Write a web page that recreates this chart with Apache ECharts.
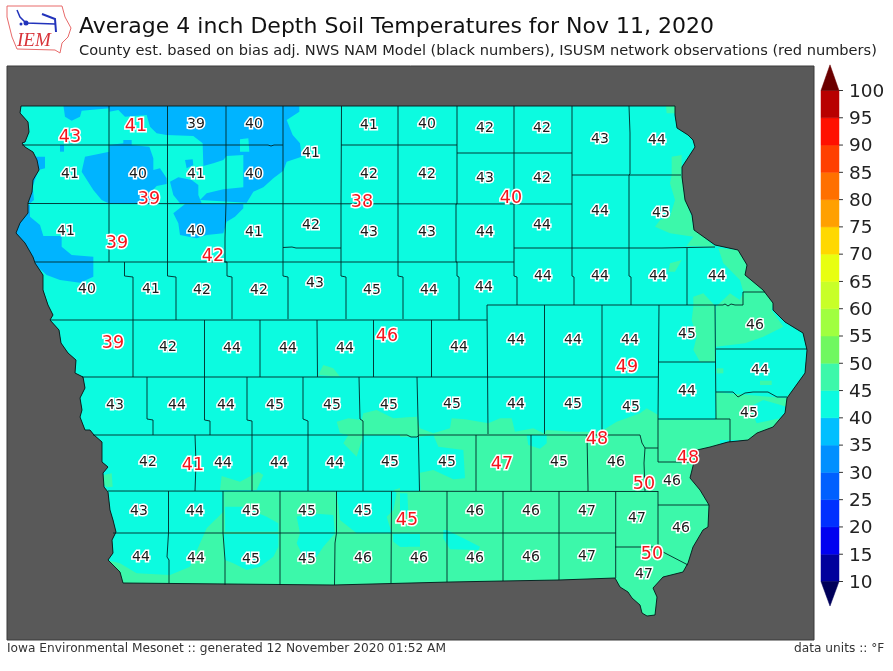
<!DOCTYPE html>
<html><head><meta charset="utf-8">
<style>html,body{margin:0;padding:0;background:#fff}#c{width:893px;height:671px}</style>
<script src="https://cdn.jsdelivr.net/npm/echarts@6/dist/echarts.min.js"></script>
</head><body><div id="c"></div>
<script>
const titleText='Average 4 inch Depth Soil Temperatures for Nov 11, 2020';
const subtitleText='County est. based on bias adj. NWS NAM Model (black numbers), ISUSM network observations (red numbers)';
const footerLeft='Iowa Environmental Mesonet :: generated 12 November 2020 01:52 AM';
const footerRight='data units :: \u00B0F';

// model estimates (black numbers)
const modelValues=[39,40,41,40,42,42,43,44, 41,40,41,40,41,42,42,43,42,44,45, 41,40,41,42,43,43,44,44, 40,41,42,42,43,45,44,44,44,44,44,44,46, 42,44,44,44,44,44,44,44,45, 44,44, 43,44,44,45,45,45,45,44,45,45,45, 42,44,44,44,45,45,45,46,46, 43,44,45,45,45,46,46,47,47,46, 44,44,45,45,46,46,46,46,47,47];
const modelX=[196,254,369,427,485,542,600,657, 70,138,196,254,311,369,427,485,542,600,661, 66,196,254,311,369,427,485,542, 87,151,202,259,315,372,429,484,543,600,658,717,755, 168,232,288,345,459,516,573,630,687, 760,687, 115,177,226,275,332,389,452,516,573,631,749, 148,223,279,335,390,447,559,616,672, 139,195,251,307,363,475,531,587,637,681, 141,196,251,307,363,419,475,531,587,644];
const modelY=[124,124,125,124,128,128,139,140, 174,174,174,174,153,174,174,178,178,211,213, 231,231,232,225,232,232,232,225, 289,289,290,290,283,290,290,287,276,276,276,276,325, 347,348,348,348,347,340,340,340,334, 370,391, 405,405,405,405,405,405,404,404,404,407,413, 462,463,463,463,462,462,462,462,481, 511,511,511,511,511,511,511,511,518,528, 557,558,559,559,558,558,558,557,556,574];
// station observations (red numbers)
const obsValues=[43,41,39,39,42,38,40,39,46,49,48,48,41,47,50,45,50];
const obsX=[70,136,149,117,213,362,511,113,387,627,597,688,193,502,644,407,652];
const obsY=[137,126,199,243,256,202,198,343,336,367,439,458,465,464,484,520,554];

// colour bar
const barEdges=[10,15,20,25,30,35,40,45,50,55,60,65,70,75,80,85,90,95];
const barColors=['#00009c','#0000f0','#0030ff','#0060ff','#0090ff','#00bfff','#0cfbe0','#3cf8aa','#70f860','#a0ff40','#c8ff28','#e8ff10','#ffd800','#ffa000','#ff7000','#ff4000','#ff1000','#b80000'];
const barLow='#00005a', barHigh='#6b0000';
const barTicks=[10,15,20,25,30,35,40,45,50,55,60,65,70,75,80,85,90,95,100];

const C_BLUE='#00b4ff', C_BASE='#0cfbe0', C_GREEN='#3cf8aa';

const stateOutline=[[21,106],[20,113],[28,122],[29,132],[25,142],[22,143],[25,147],[33,152],[37,160],[39,170],[33,180],[32,192],[28,203],[28,213],[20,223],[16,233],[25,243],[33,257],[35,263],[43,275],[43,290],[48,305],[53,315],[50,320],[59,330],[61,343],[68,353],[76,360],[75,373],[83,377],[85,388],[80,398],[82,410],[80,417],[85,430],[90,430],[94,435],[102,442],[102,462],[108,467],[103,473],[104,487],[108,492],[110,510],[113,520],[116,532],[112,540],[113,553],[108,560],[120,572],[123,583],[333,585],[450,582],[503,581],[559,580],[615,578],[620,587],[628,592],[632,598],[640,605],[642,613],[647,616],[655,615],[657,597],[653,588],[663,577],[683,572],[688,563],[693,547],[703,530],[708,527],[709,505],[700,490],[690,478],[697,450],[710,447],[728,442],[748,440],[757,433],[773,427],[785,413],[787,398],[805,373],[807,350],[803,333],[785,322],[773,310],[773,303],[763,290],[745,275],[747,265],[738,250],[715,245],[694,230],[692,215],[685,200],[682,177],[682,167],[695,147],[693,140],[688,135],[677,128],[675,115],[675,106]];

const countyLines=[
[[109,106],[109,262]],
[[124.5,262],[124.5,276],[133,277],[133,377]],
[[167.5,106],[167.5,276],[176,277],[176,320]],
[[226,106],[226,203],[225,238],[225,262],[227,262],[227,276],[232,277],[232,319]],
[[283,106],[283,276],[288,277],[288,319]],
[[341.5,106],[341,204],[341,276],[346,277],[346,319]],
[[398,106],[398,276],[403,277],[403,319]],
[[457,106],[457,204],[456,204],[456,262],[457,262],[457,276],[459,277],[459,320]],
[[514,106],[514,276],[517,277],[517,305]],
[[572,106],[572,276],[574,277],[574,305]],
[[629,106],[630,133],[630,174],[629,175],[629,276],[631,277],[631,305]],
[[687,248],[687,305]],
[[22,145],[268,145],[271,146],[274,145],[283,145]],
[[341,145],[457,145]],
[[457,153],[572,153]],
[[572,175],[681,175]],
[[28,203.5],[572,204]],
[[283,247.5],[292,247],[296,248],[341,248]],
[[514,248],[662,248],[715,247]],
[[35,262],[514,262]],
[[50,320],[487,320]],
[[487,305],[715,305],[723,305],[725,304],[728,306],[731,304],[735,305],[743,305],[743,292],[765,292]],
[[487,305],[488,434]],
[[82,377],[658,377]],
[[658,362],[716,362]],
[[659,305],[658,419]],
[[715,305],[716,419]],
[[716,349],[807,349]],
[[716,392],[733,392],[738,397],[745,393],[753,392],[768,392],[777,397],[787,397]],
[[658,419],[730,419],[730,442]],
[[658,419],[658,462],[697,462]],
[[645,448],[658,448]],
[[640,435],[642,443],[645,448],[644,463],[645,491]],
[[93,435],[407,435],[411,437],[417,437],[419,435],[640,435]],
[[204.5,320],[204.5,377]],
[[260,320],[260,377]],
[[317,320],[317.5,377]],
[[373.5,320],[373.5,377]],
[[431.5,320],[431.5,377]],
[[544.5,305],[544.5,434]],
[[602,305],[602,434]],
[[147,377],[147,419],[153,420],[153,435]],
[[204.5,377],[204.5,420],[210,421],[210,435]],
[[247,377],[247,420],[252,421],[252,491]],
[[303,377],[303,419],[308,421],[308,491]],
[[359,377],[360,419],[363,421],[363,491]],
[[417,377],[418,419],[419.5,491]],
[[195,435],[196,463],[195,491]],
[[476,435],[476,491]],
[[531,435],[531,491]],
[[587,435],[588,487],[588,491]],
[[108,491],[658,491.5]],
[[658,491],[658,547],[663,552],[688,565]],
[[658,505],[709,505]],
[[615,547],[658,547]],
[[615.7,491.5],[615.7,578]],
[[113,533],[615.7,533]],
[[168.5,491],[168.5,533],[167,557],[169,560],[169,583]],
[[223,491],[223,533],[225,560],[225,585]],
[[280,491],[280,585]],
[[336.5,491],[336.5,533],[335,543],[334.5,585]],
[[391.5,491],[391,583]],
[[447,491],[447,582]],
[[503,491],[503,581]],
[[559,491],[559,580]]
];

const blueZones=[
[10,100,[[160,15],[868,15],[868,35],[830,60],[848,105],[870,130],[875,170],[830,185],[820,212],[790,235],[760,262],[730,275],[710,308],[570,300],[590,280],[640,268],[700,262],[700,215],[700,165],[650,168],[640,180],[610,190],[580,198],[578,130],[550,108],[470,105],[440,100],[420,80],[410,45],[345,50],[325,30],[298,35],[298,25],[215,32],[210,50],[185,62],[165,50]]],
[10,100,[[490,340],[525,312],[700,312],[700,325],[675,350],[650,365],[640,400],[590,405],[560,415],[510,405],[505,370]]],
[10,100,[[215,215],[225,170],[298,155],[298,135],[340,130],[340,120],[365,120],[365,135],[418,140],[430,175],[430,210],[450,205],[470,235],[470,252],[440,258],[420,280],[440,312],[300,312],[275,300],[250,270]]],
[10,100,[[480,245],[505,232],[545,240],[565,255],[565,285],[575,310],[510,310],[490,285]]],
[10,100,[[525,180],[548,178],[550,195],[530,205]]],
[10,100,[[30,315],[60,315],[60,350],[90,375],[100,408],[155,408],[155,440],[185,465],[250,470],[250,530],[210,548],[150,540],[110,525],[70,490],[10,450],[0,400]]],
[10,100,[[82,170],[105,170],[105,205],[85,210],[68,260],[72,300],[60,310],[40,300],[60,170]]],
[10,100,[[150,135],[162,135],[162,155],[150,155]]]
];
const baseIslandsNorth=[
[10,100,[[690,118],[715,115],[718,155],[690,155]]]
];
const greenZones=[
[100,400,[[710,65],[745,55],[785,60],[790,40],[830,30],[880,55],[950,50],[960,105],[790,105],[770,170],[730,130],[745,105],[720,100]]],
[100,400,[[360,270],[365,228],[420,245],[445,232],[475,215],[490,225],[470,270]]],
[100,400,[[8,250],[10,225],[35,220],[38,260],[20,262]]],
[100,400,[[880,270],[950,250],[960,270],[960,400],[875,400],[860,350],[880,330],[890,280]]],
[100,400,[[320,385],[370,335],[370,275],[710,275],[720,360],[770,400],[960,400],[960,555],[20,555],[20,480],[60,490],[110,520],[210,525],[270,500],[300,430]]],
[400,390,[[0,85],[50,80],[60,115],[100,130],[150,115],[155,85],[195,88],[265,100],[300,85],[335,85],[345,125],[400,115],[430,130],[440,120],[520,125],[605,125],[610,120],[650,95],[720,70],[740,55],[775,75],[775,90],[945,90],[960,60],[960,740],[0,740]]],
[650,140,[[65,50],[95,45],[95,105],[105,180],[125,230],[130,265],[195,320],[110,318],[130,290],[60,280],[15,260],[30,240],[60,230],[75,180],[60,130],[65,105]]],
[650,140,[[205,325],[265,330],[290,375],[290,410],[340,450],[370,490],[365,510],[400,560],[340,590],[285,610],[198,620],[198,500],[240,460],[270,480],[280,456],[270,420],[220,370]]],
[650,140,[[130,500],[195,497],[195,665],[150,665],[130,630],[140,590],[125,540]]],
[650,140,[[130,470],[160,460],[195,497],[130,500]]],
[650,140,[[60,370],[95,360],[75,395],[55,395]]],
[650,140,[[200,685],[220,685],[220,700],[200,700]]],
[650,140,[[330,722],[365,722],[365,735],[330,735]]],
[650,140,[[198,757],[410,775],[410,800],[340,780],[300,800],[320,850],[410,830],[410,870],[300,900],[198,900]]],
[650,140,[[410,770],[465,715],[470,700],[430,780]]],
[440,0,[[678,318],[705,318],[705,340],[680,340]]],
[0,330,[[955,135],[970,105],[1000,115],[1020,140]]]
];
const baseIslandsSouth=[
[100,400,[[375,320],[430,320],[500,350],[535,370],[535,395],[375,395]]],
[100,400,[[372,402],[535,402],[535,440],[520,470],[480,500],[440,510],[400,490],[375,480]]],
[100,400,[[590,350],[630,340],[700,345],[705,400],[670,440],[650,470],[610,470],[590,430],[600,400]]],
[100,400,[[878,402],[960,402],[960,440],[900,440],[880,425]]],
[400,390,[[0,140],[60,140],[100,135],[115,170],[190,180],[195,265],[160,268],[100,240],[60,248],[62,304],[0,304]]],
[400,390,[[0,310],[22,310],[25,370],[0,375]]],
[400,390,[[130,420],[140,420],[190,445],[240,470],[235,480],[150,478],[130,445]]],
[400,390,[[0,430],[30,430],[22,470],[0,470]]],
[400,390,[[380,135],[440,135],[440,160],[420,176],[385,165]]]
];
const placeZone=z=>z[2].map(p=>[p[0]/3+z[0],p[1]/3+z[1]]);

const PLOT={x0:7,x1:814,y0:66,y1:640};
const frame=[[PLOT.x0,PLOT.y0],[PLOT.x1,PLOT.y0],[PLOT.x1,PLOT.y1],[PLOT.x0,PLOT.y1]];
const FONT='"DejaVu Sans"';

function polySeries(polys,fill,z){
  return {type:'custom',xAxisIndex:0,yAxisIndex:0,silent:true,z:z,animation:false,
    data:polys.map((_,i)=>[i]),
    renderItem:(p,api)=>({type:'polygon',shape:{points:polys[p.dataIndex].map(q=>api.coord(q))},style:{fill:fill,stroke:null}})
  };
}
function lineSeries(lines,color,width,z,closed){
  return {type:'custom',xAxisIndex:0,yAxisIndex:0,silent:true,z:z,animation:false,
    data:lines.map((_,i)=>[i]),
    renderItem:(p,api)=>({type:closed?'polygon':'polyline',shape:{points:lines[p.dataIndex].map(q=>api.coord(q))},style:{fill:null,stroke:color,lineWidth:width}})
  };
}
function labelSeries(vals,xs,ys,color,size,z,halo){
  return {type:'custom',xAxisIndex:0,yAxisIndex:0,silent:true,z:z,animation:false,
    data:vals.map((v,i)=>[xs[i],ys[i],v]),
    renderItem:(p,api)=>{
      const c=api.coord([api.value(0),api.value(1)]);
      const st={text:String(api.value(2)),font:size+'px '+FONT,fill:color,align:'center',verticalAlign:'middle'};
      if(halo){st.stroke=color;st.lineWidth=halo;}
      return {type:'text',x:c[0],y:c[1],style:st};
    }
  };
}
const maskPoly=frame.concat([frame[0]],stateOutline,[stateOutline[0],frame[0]]);
const barRects=barEdges.map(lo=>[[0,lo],[1,lo],[1,lo+5],[0,lo+5]]);
const barArrowTop=[[0,100],[1,100],[0.5,104.7]];
const barArrowLow=[[0,10],[1,10],[0.5,5.5]];
function barSeries(polys,colors){
  return {type:'custom',xAxisIndex:1,yAxisIndex:1,silent:true,z:5,animation:false,clip:false,
    data:polys.map((_,i)=>[i]),
    renderItem:(p,api)=>({type:'polygon',shape:{points:polys[p.dataIndex].map(q=>api.coord(q))},style:{fill:colors[p.dataIndex],stroke:colors[p.dataIndex],lineWidth:0.5}})
  };
}
const tickSeries={type:'custom',xAxisIndex:1,yAxisIndex:1,silent:true,z:6,animation:false,clip:false,
  data:barTicks.map((_,i)=>[i]),
  renderItem:(p,api)=>{
    const v=barTicks[p.dataIndex], a=api.coord([1,v]), b=api.coord([1.22,v]), t=api.coord([1.556,v]);
    return {type:'group',children:[
      {type:'polyline',shape:{points:[a,b]},style:{fill:null,stroke:'#333',lineWidth:1}},
      {type:'text',x:t[0],y:t[1]+1.5,style:{text:String(v),font:'18.5px '+FONT,fill:'#222',align:'left',verticalAlign:'middle'}}
    ]};
  }};

const chart=echarts.init(document.getElementById('c'),null,{renderer:'canvas'});
chart.setOption({
  animation:false,
  backgroundColor:'#fff',
  title:[
    {text:titleText,left:79,top:16,padding:0,textStyle:{fontFamily:'DejaVu Sans',fontSize:22,fontWeight:'normal',color:'#111'}},
    {text:subtitleText,left:79,top:44,padding:0,textStyle:{fontFamily:'DejaVu Sans',fontSize:14.6,fontWeight:'normal',color:'#222'}},
    {text:footerLeft,left:7,top:643,padding:0,textStyle:{fontFamily:'DejaVu Sans',fontSize:12.2,fontWeight:'normal',color:'#333'}},
    {text:footerRight,left:794,top:643,padding:0,textStyle:{fontFamily:'DejaVu Sans',fontSize:12.2,fontWeight:'normal',color:'#333'}}
  ],
  grid:[
    {left:PLOT.x0,top:PLOT.y0,width:PLOT.x1-PLOT.x0,height:PLOT.y1-PLOT.y0,show:true,backgroundColor:'#595959',borderWidth:0},
    {left:821,top:90.5,width:18,height:491,show:false}
  ],
  xAxis:[
    {type:'value',gridIndex:0,min:PLOT.x0,max:PLOT.x1,show:false},
    {type:'value',gridIndex:1,min:0,max:1,show:false}
  ],
  yAxis:[
    {type:'value',gridIndex:0,min:PLOT.y0,max:PLOT.y1,inverse:true,show:false},
    {type:'value',gridIndex:1,min:10,max:100,interval:5,position:'right',
      axisLine:{show:false},axisTick:{show:false},splitLine:{show:false},axisLabel:{show:false}}
  ],
  series:[
    polySeries([stateOutline],C_BASE,1),
    polySeries(blueZones.map(placeZone),C_BLUE,2),
    polySeries(baseIslandsNorth.map(placeZone),C_BASE,3),
    polySeries(greenZones.map(placeZone),C_GREEN,4),
    polySeries(baseIslandsSouth.map(placeZone),C_BASE,5),
    polySeries([maskPoly],'#595959',6),
    lineSeries(countyLines,'rgba(0,40,40,0.9)',1,7,false),
    lineSeries([stateOutline],'rgba(0,25,25,0.9)',1,8,true),
    lineSeries([frame],'#3a3a3a',1,8,true),
    labelSeries(modelValues,modelX,modelY,'#fff',14,10,3),
    labelSeries(obsValues,obsX,obsY,'#fff',17.5,10,3),
    labelSeries(modelValues,modelX,modelY,'#1a1a1a',14,11),
    labelSeries(obsValues,obsX,obsY,'#f4141c',17.5,11),
    barSeries(barRects,barColors),
    barSeries([barArrowTop,barArrowLow],[barHigh,barLow]),
    tickSeries
  ],
  graphic:[
    {type:'polygon',silent:true,shape:{points:[[7,6],[62,6],[65,17],[71,28],[68,37],[62,43],[60,53],[55,50],[17,49],[12,37],[7,17]]},style:{fill:'#fff',stroke:'#e86a6a',lineWidth:1}},
    {type:'polyline',silent:true,shape:{points:[[17,10],[20,17],[26,23],[55,24]]},style:{stroke:'#2233bb',lineWidth:1.5,fill:null}},
    {type:'polyline',silent:true,shape:{points:[[42,14],[55,19],[56,32]]},style:{stroke:'#2233bb',lineWidth:2,fill:null}},
    {type:'circle',silent:true,shape:{cx:26,cy:23,r:2.5},style:{fill:'#2233bb'}},
    {type:'circle',silent:true,shape:{cx:21,cy:24,r:1.5},style:{fill:'#2233bb'}},
    {type:'text',silent:true,left:17,top:31,style:{text:'IEM',fontFamily:'Liberation Serif',fontStyle:'italic',fontSize:19,fill:'#d8343a'}}
  ]
});
</script></body></html>
